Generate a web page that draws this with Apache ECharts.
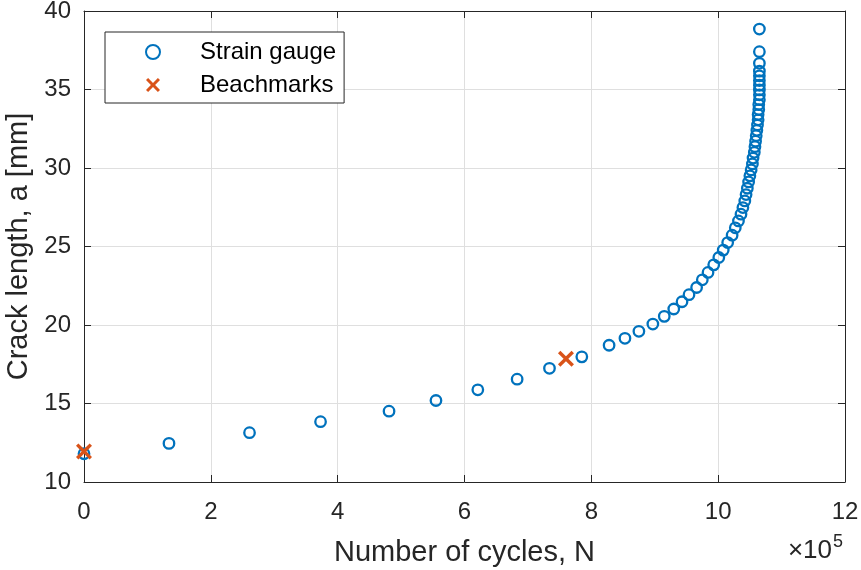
<!DOCTYPE html>
<html>
<head>
<meta charset="utf-8">
<script src="https://cdn.jsdelivr.net/npm/echarts@6/dist/echarts.min.js"></script>
<style>
html,body{margin:0;padding:0;background:#fff;}
#chart{width:861px;height:570px;}
</style>
</head>
<body>
<div id="chart"></div>
<script>
// Number of cycles (x 1e5) and crack length (mm)
var gaugeN = [0, 1.34, 2.61, 3.73, 4.81, 5.55, 6.21, 6.83, 7.34, 7.85,
  8.28, 8.53, 8.75, 8.97, 9.15, 9.30, 9.43, 9.54, 9.66, 9.75,
  9.84, 9.93, 10.01, 10.08, 10.15, 10.22, 10.27, 10.32, 10.36, 10.39,
  10.42, 10.44, 10.46, 10.48, 10.50, 10.52, 10.54, 10.55, 10.57, 10.58,
  10.59, 10.60, 10.61, 10.62, 10.63, 10.63, 10.64, 10.64, 10.65, 10.65,
  10.65, 10.65, 10.65, 10.65, 10.65, 10.65, 10.65];
var gaugeA = [11.80, 12.46, 13.14, 13.84, 14.51, 15.19, 15.87, 16.55, 17.24, 17.97,
  18.71, 19.15, 19.60, 20.06, 20.55, 21.02, 21.48, 21.93, 22.39, 22.88,
  23.35, 23.83, 24.30, 24.77, 25.25, 25.72, 26.19, 26.63, 27.06, 27.48,
  27.90, 28.31, 28.71, 29.11, 29.50, 29.88, 30.26, 30.63, 31.00, 31.36,
  31.71, 32.06, 32.40, 32.74, 33.07, 33.40, 33.72, 34.04, 34.35, 34.66,
  34.97, 35.27, 35.57, 35.87, 36.17, 36.67, 37.41];
var gaugeTopN = [10.65];
var gaugeTopA = [38.85];
var beachN = [0, 7.60];
var beachA = [11.95, 17.85];

var xTicks = [0, 2, 4, 6, 8, 10, 12];
var yTicks = [10, 15, 20, 25, 30, 35, 40];

var allN = gaugeN.concat(gaugeTopN);
var allA = gaugeA.concat(gaugeTopA);
var gaugeData = allN.map(function (n, i) { return [n, allA[i]]; });
var beachData = beachN.map(function (n, i) { return [n, beachA[i]]; });

var FONT = 'Liberation Sans, Arial, sans-serif';
var AX = '#262626';
var xPath = 'path://M0,1.5L1.5,0L5,3.5L8.5,0L10,1.5L6.5,5L10,8.5L8.5,10L5,6.5L1.5,10L0,8.5L3.5,5Z';

var chart = echarts.init(document.getElementById('chart'), null, {renderer: 'canvas'});
var axisCommon = {
  axisLine: {show: true, onZero: false, lineStyle: {color: AX, width: 1}},
  axisTick: {show: true, inside: true, length: 7, lineStyle: {color: AX, width: 1}}
};
chart.setOption({
  animation: false,
  backgroundColor: '#fff',
  grid: {left: 84, right: 16, top: 11, bottom: 88, containLabel: false, outerBoundsMode: 'none'},
  xAxis: [
    Object.assign({
      type: 'value', min: xTicks[0], max: xTicks[xTicks.length - 1], interval: 2,
      name: 'Number of cycles, N', nameLocation: 'middle', nameGap: 56,
      nameTextStyle: {fontFamily: FONT, fontSize: 29, color: AX},
      axisLabel: {show: true, margin: 18, fontFamily: FONT, fontSize: 24, color: AX},
      splitLine: {show: true, lineStyle: {color: '#dfdfdf', width: 1}}
    }, axisCommon),
    Object.assign({
      type: 'value', position: 'top', min: xTicks[0], max: xTicks[xTicks.length - 1], interval: 2,
      axisLabel: {show: false}, splitLine: {show: false}
    }, axisCommon)
  ],
  yAxis: [
    Object.assign({
      type: 'value', min: yTicks[0], max: yTicks[yTicks.length - 1], interval: 5,
      name: 'Crack length, a [mm]', nameLocation: 'middle', nameGap: 50,
      nameTextStyle: {fontFamily: FONT, fontSize: 29, color: AX},
      axisLabel: {show: true, margin: 13, fontFamily: FONT, fontSize: 24, color: AX},
      splitLine: {show: true, lineStyle: {color: '#dfdfdf', width: 1}}
    }, axisCommon),
    Object.assign({
      type: 'value', position: 'right', min: yTicks[0], max: yTicks[yTicks.length - 1], interval: 5,
      axisLabel: {show: false}, splitLine: {show: false}
    }, axisCommon)
  ],
  legend: {
    orient: 'vertical', left: 105, top: 32,
    padding: [8, 8, 6, 40],
    itemWidth: 36, itemHeight: 14, itemGap: 9, itemTextGap: 29,
    borderColor: AX, borderWidth: 1, backgroundColor: '#fff',
    textStyle: {fontFamily: FONT, fontSize: 24, color: '#000', padding: [0, 0, 0, 24]},
    data: ['Strain gauge', 'Beachmarks']
  },
  series: [
    {
      name: 'Strain gauge', type: 'scatter', data: gaugeData,
      symbol: 'circle', symbolSize: 10.5,
      itemStyle: {color: 'rgba(255,255,255,0)', borderColor: '#0072BD', borderWidth: 2.3, opacity: 1},
      z: 3
    },
    {
      name: 'Beachmarks', type: 'scatter', data: beachData,
      symbol: xPath, symbolSize: 16,
      itemStyle: {color: '#D95319', opacity: 1},
      z: 4
    }
  ],
  graphic: [
    {type: 'text', right: 861 - 832, top: 538,
     style: {text: '\u00d710', fontFamily: FONT, fontSize: 26, fill: AX}},
    {type: 'text', left: 833, top: 533,
     style: {text: '5', fontFamily: FONT, fontSize: 18, fill: AX}}
  ]
});
</script>
</body>
</html>
